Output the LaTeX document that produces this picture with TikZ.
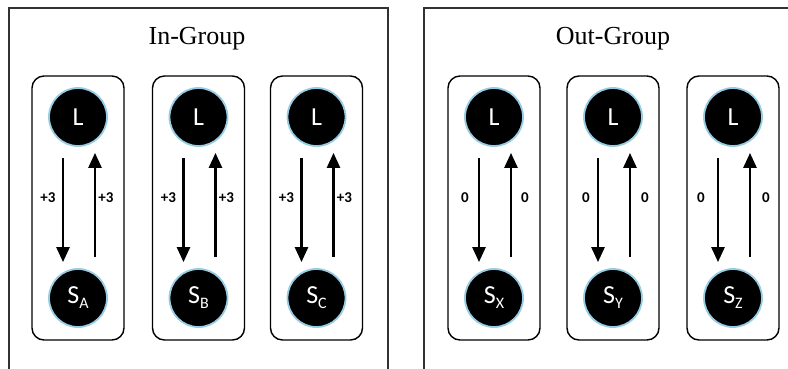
\documentclass[tikz,border=0pt]{standalone}
\usepackage{fontspec}
\setmainfont{Liberation Serif}
\newfontfamily\calib{Carlito}
\usetikzlibrary{arrows.meta}
\definecolor{ring}{RGB}{150,205,228}
\definecolor{frame}{RGB}{50,50,50}
\tikzset{
  outerbox/.style={draw=frame, line width=1.4pt},
  innerbox/.style={draw=black, line width=1.4pt, rounded corners=12pt, minimum width=92pt, minimum height=264pt, inner sep=0pt},
  agent/.style={circle, fill=black, draw=ring, line width=1.8pt, minimum size=58pt, inner sep=0pt, text=white, font=\calib\fontsize{26}{26}\selectfont},
  link/.style={line width=2.6pt, -{Triangle[width=13pt,length=15pt]}, shorten <=11pt, shorten >=6pt},
  weight/.style={font=\calib\bfseries\fontsize{15}{15}\selectfont, inner sep=0pt},
  title/.style={font=\fontsize{26}{26}\selectfont, anchor=base, inner sep=0pt}
}
\begin{document}
\begin{tikzpicture}[x=1pt, y=-1pt]
\clip (0,0) rectangle (788,368);
\fill[white] (0,0) rectangle (788,368);
\draw[outerbox] (9,8) rectangle (388,390);
\draw[outerbox] (424,8) rectangle (800,390);
\node[title] (tin) at (197,44) {In-Group};
\node[title] (tout) at (613,44) {Out-Group};
\foreach \i/\cx/\sub/\lab/\lx/\rx in {1/78/A/+3/-30/28, 2/198.5/B/+3/-30/28, 3/316.5/C/+3/-30/28, 4/494/X/0/-29/31, 5/613/Y/0/-27/32, 6/733/Z/0/-32/33}{
  \node[innerbox] (box\i) at (\cx,208) {};
  \node[agent] (L\i) at (\cx,117) {L};
  \node[agent] (S\i) at (\cx,298) {S\raisebox{-5pt}{\fontsize{16}{16}\selectfont\sub}};
  \draw[link] ([xshift=-15pt]L\i.south) -- ([xshift=-15pt]S\i.north);
  \draw[link] ([xshift=17pt]S\i.north) -- ([xshift=17pt]L\i.south);
  \node[weight] (wd\i) at (\cx+\lx,198) {\lab};
  \node[weight] (wu\i) at (\cx+\rx,198) {\lab};
}
\end{tikzpicture}
\end{document}
